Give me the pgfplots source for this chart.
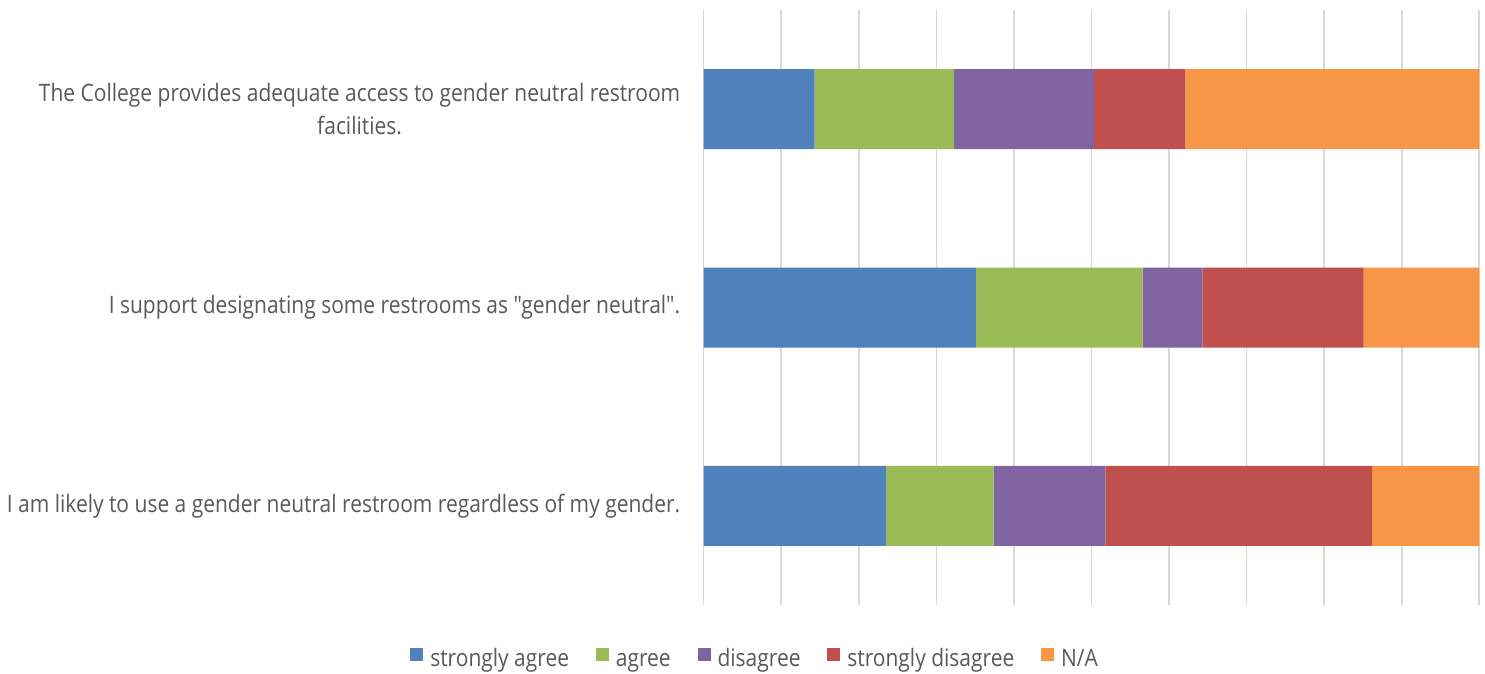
\documentclass[border=0pt]{standalone}
\usepackage{fontspec}
\setmainfont{Open Sans}[FakeStretch=0.874, Ligatures=TeXOff]
\usepackage{pgfplots}
\pgfplotsset{compat=1.18}
\definecolor{cblue}{HTML}{4F81BD}
\definecolor{cgreen}{HTML}{9BBB59}
\definecolor{cpurple}{HTML}{8064A2}
\definecolor{cred}{HTML}{C0504D}
\definecolor{corange}{HTML}{F79646}
\definecolor{labelgray}{HTML}{595959}
\definecolor{gridgray}{HTML}{D9D9D9}
\begin{document}
\begin{tikzpicture}
\begin{axis}[name=ax,
  xbar stacked, scale only axis,
  width=387.75pt, height=297.5pt,
  xmin=0, xmax=100, ymin=-0.5, ymax=2.5,
  bar width=40pt,
  axis line style={draw=none},
  xtick={0,10,...,100}, xticklabels={},
  xmajorgrids, grid style={color=gridgray, line width=0.8pt},
  major tick length=0pt,
  ytick={0,1,2},
  yticklabels={{I am likely to use a gender neutral restroom regardless of my gender.},
    {I support designating some restrooms as "gender neutral".},
    {The College provides adequate access to gender neutral restroom\\facilities.}},
  yticklabel style={align=center, text=labelgray, inner sep=0pt, font=\fontsize{12}{16.5}\selectfont},
  yticklabel shift=11.5pt,
  legend columns=-1,
  legend style={at={(0.0651,-0.086)}, anchor=center, draw=none,
    font=\fontsize{12}{16.5}\selectfont, text=labelgray,
    nodes={inner xsep=0pt},
    /tikz/every odd column/.append style={column sep=3.5pt},
    /tikz/every even column/.append style={column sep=13.4pt}},
  legend image code/.code={\fill[#1] (0pt,-2.3pt) rectangle (6.5pt,4.2pt);},
]
\addplot[fill=cblue, draw=none] coordinates {(23.5,0) (35.1,1) (14.3,2)};
\addplot[fill=cgreen, draw=none] coordinates {(13.9,0) (21.5,1) (18.0,2)};
\addplot[fill=cpurple, draw=none] coordinates {(14.4,0) (7.7,1) (18.0,2)};
\addplot[fill=cred, draw=none] coordinates {(34.4,0) (20.8,1) (11.8,2)};
\addplot[fill=corange, draw=none] coordinates {(13.8,0) (14.9,1) (37.9,2)};
\legend{\strut strongly agree, \strut agree, \strut disagree, \strut strongly disagree, \strut N/A}
\end{axis}
\pgfresetboundingbox
\path[use as bounding box] ([xshift=-351.75pt,yshift=-34pt]ax.south west) rectangle ([xshift=2.85pt,yshift=5pt]ax.north east);
\end{tikzpicture}
\end{document}
